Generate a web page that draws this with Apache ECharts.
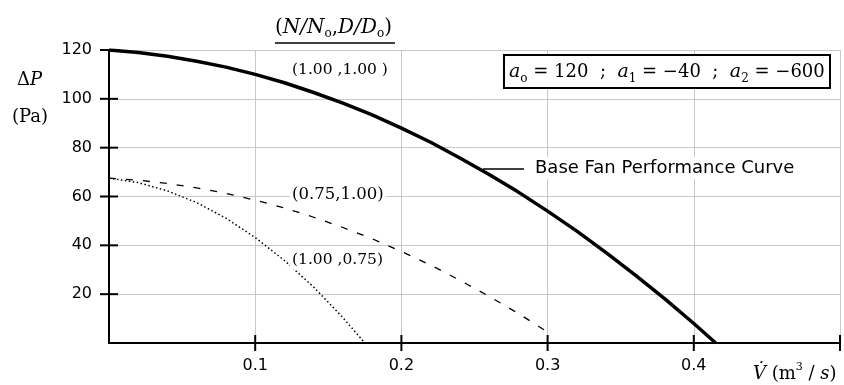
<!DOCTYPE html>
<html><head><meta charset="utf-8">
<script src="https://cdn.jsdelivr.net/npm/echarts@6/dist/echarts.min.js"></script>
<style>html,body{margin:0;padding:0;background:#fff}#c{width:844px;height:385px}</style>
</head><body><div id="c"></div>
<script>
// ---- data ----
const xTickValues = [0.1, 0.2, 0.3, 0.4, 0.5];
const xLabelValues = [0.1, 0.2, 0.3, 0.4];
const yTickValues = [20, 40, 60, 80, 100, 120];

const baseV = [0, 0.02, 0.04, 0.06, 0.08, 0.10, 0.12, 0.14, 0.16, 0.18, 0.20, 0.22, 0.24, 0.26, 0.28, 0.30, 0.32, 0.34, 0.36, 0.38, 0.40, 0.415];
const baseP = [120, 119, 117.4, 115.4, 113, 110, 106.6, 102.6, 98.2, 93.4, 88, 82.2, 75.8, 69, 61.8, 54, 45.8, 37, 27.8, 18.2, 8, 0];

const speedV = [0, 0.02, 0.04, 0.06, 0.08, 0.10, 0.12, 0.14, 0.16, 0.18, 0.20, 0.22, 0.24, 0.26, 0.28, 0.30, 0.303];
const speedP = [67.5, 66.7, 65.3, 63.5, 61.3, 58.5, 55.3, 51.5, 47.3, 42.7, 37.5, 31.9, 25.7, 19.1, 12.1, 4.5, 3.2];

const diamV = [0, 0.02, 0.04, 0.06, 0.08, 0.10, 0.12, 0.14, 0.16, 0.175];
const diamP = [67.5, 65.7, 62.3, 57.5, 51.1, 43.2, 33.8, 22.9, 10.4, 0];

const curveLabels = ['(1.00 ,1.00 )', '(0.75,1.00)', '(1.00 ,0.75)'];
const baseLabel = 'Base Fan Performance Curve';
const coeffs = ['120', '\u221240', '\u2212600'];

// ---- chart ----
const chart = echarts.init(document.getElementById('c'), null, {renderer: 'canvas'});
const pairs = (xs, ys) => xs.map((v, i) => [v, ys[i]]);
const SERIF = '"DejaVu Serif", "Liberation Serif", serif';
const SANS = '"DejaVu Sans", "Liberation Sans", sans-serif';

function rt(size, extra) {
  return Object.assign({fontFamily: SERIF, fontSize: size, fill: '#000', color: '#000'}, extra || {});
}

// tick marks that cross the axis line (drawn through the axis scales)
function crossTick(dir, half) {
  return function (params, api) {
    const c = api.coord([api.value(0), api.value(1)]);
    const shape = dir === 'y'
      ? {x1: c[0] - half, y1: c[1], x2: c[0] + half, y2: c[1]}
      : {x1: c[0], y1: c[1] - half, x2: c[0], y2: c[1] + half};
    return {type: 'line', shape: shape, style: {stroke: '#000', lineWidth: 2}};
  };
}

const option = {
  animation: false,
  backgroundColor: '#fff',
  grid: {left: 109, right: 4, top: 50, bottom: 42},
  xAxis: {
    type: 'value', min: 0, max: 0.5, interval: 0.1,
    axisLine: {lineStyle: {color: '#000', width: 2}},
    axisTick: {show: false},
    axisLabel: {customValues: xLabelValues, formatter: v => v.toFixed(1), margin: 15,
      fontFamily: SANS, fontSize: 16, color: '#000'},
    splitLine: {show: true, lineStyle: {color: '#c8c8c8', width: 1}}
  },
  yAxis: {
    type: 'value', min: 0, max: 120, interval: 20,
    axisLine: {show: true, lineStyle: {color: '#000', width: 2}},
    axisTick: {show: false},
    axisLabel: {customValues: yTickValues, margin: 17, fontFamily: SANS, fontSize: 16, color: '#000'},
    splitLine: {show: true, lineStyle: {color: '#c8c8c8', width: 1}}
  },
  series: [{
    type: 'line', data: pairs(baseV, baseP), showSymbol: false, z: 5,
    lineStyle: {color: '#000', width: 3.5}
  }, {
    type: 'line', data: pairs(speedV, speedP), showSymbol: false, z: 4,
    lineStyle: {color: '#000', width: 1.3, type: [7, 10]}
  }, {
    type: 'line', data: pairs(diamV, diamP), showSymbol: false, z: 4,
    lineStyle: {color: '#000', width: 1.5, type: [1.5, 2.5]}
  }, {
    type: 'custom', silent: true, clip: false, z: 6,
    data: yTickValues.map(v => [0, v]), renderItem: crossTick('y', 9)
  }, {
    type: 'custom', silent: true, clip: false, z: 6,
    data: xTickValues.map(v => [v, 0]), renderItem: crossTick('x', 8)
  }],
  graphic: [
    // title with underline
    {type: 'text', x: 275, y: 28, z: 20, style: {
      text: '{n|(}{i|N/N}{s|o}{n|,}{i|D/D}{s|o}{n|)}', verticalAlign: 'middle',
      rich: {n: rt(20, {lineHeight: 24}), i: rt(20, {fontStyle: 'italic', lineHeight: 24}),
             s: rt(12, {lineHeight: 12, verticalAlign: 'bottom'})}
    }},
    {type: 'line', z: 20, shape: {x1: 275, y1: 43, x2: 395, y2: 43}, style: {stroke: '#000', lineWidth: 1.5}},
    // curve labels
    {type: 'text', x: 290, y: 70, z: 20, style: {text: curveLabels[0], font: '15.5px ' + SERIF, fill: '#000',
      verticalAlign: 'middle', backgroundColor: '#fff', padding: [1, 2]}},
    {type: 'text', x: 290, y: 195, z: 20, style: {text: curveLabels[1], font: '16.5px ' + SERIF, fill: '#000',
      verticalAlign: 'middle', backgroundColor: '#fff', padding: [1, 2]}},
    {type: 'text', x: 290, y: 260, z: 20, style: {text: curveLabels[2], font: '15.5px ' + SERIF, fill: '#000',
      verticalAlign: 'middle', backgroundColor: '#fff', padding: [1, 2]}},
    // coefficient box
    {type: 'rect', z: 20, shape: {x: 504, y: 55, width: 326, height: 33},
      style: {fill: '#fff', stroke: '#000', lineWidth: 2}},
    {type: 'text', x: 509, y: 72, z: 21, style: {
      text: '{i|a}{s|o}{n| = ' + coeffs[0] + '  ;  }{i|a}{s|1}{n| = ' + coeffs[1] + '  ;  }{i|a}{s|2}{n| = ' + coeffs[2] + '}',
      verticalAlign: 'middle',
      rich: {n: rt(18, {lineHeight: 26}), i: rt(19, {fontStyle: 'italic', lineHeight: 26}),
             s: rt(12, {lineHeight: 14, verticalAlign: 'bottom'})}
    }},
    // base curve leader and label
    {type: 'line', z: 20, shape: {x1: 483, y1: 169, x2: 524, y2: 169}, style: {stroke: '#000', lineWidth: 1.5}},
    {type: 'text', x: 533, y: 168, z: 20, style: {text: baseLabel, font: '18px ' + SANS, fill: '#000',
      verticalAlign: 'middle', backgroundColor: '#fff', padding: [2, 2]}},
    // y axis name
    {type: 'text', x: 17, y: 80, z: 20, style: {
      text: '{n|\u0394}{i|P}', verticalAlign: 'middle',
      rich: {n: rt(18), i: rt(18, {fontStyle: 'italic'})}
    }},
    {type: 'text', x: 12, y: 117, z: 20, style: {text: '(Pa)', font: '18px ' + SERIF, fill: '#000', verticalAlign: 'middle'}},
    // x axis name
    {type: 'text', x: 753, y: 374, z: 20, style: {
      text: '{i|V\u0307}{n| (m}{p|3}{n| / }{i|s}{n|)}', verticalAlign: 'middle',
      rich: {n: rt(18, {lineHeight: 24}), i: rt(18, {fontStyle: 'italic', lineHeight: 24}),
             p: rt(11, {lineHeight: 12, verticalAlign: 'top'})}
    }}
  ]
};
chart.setOption(option);
</script>
</body></html>
